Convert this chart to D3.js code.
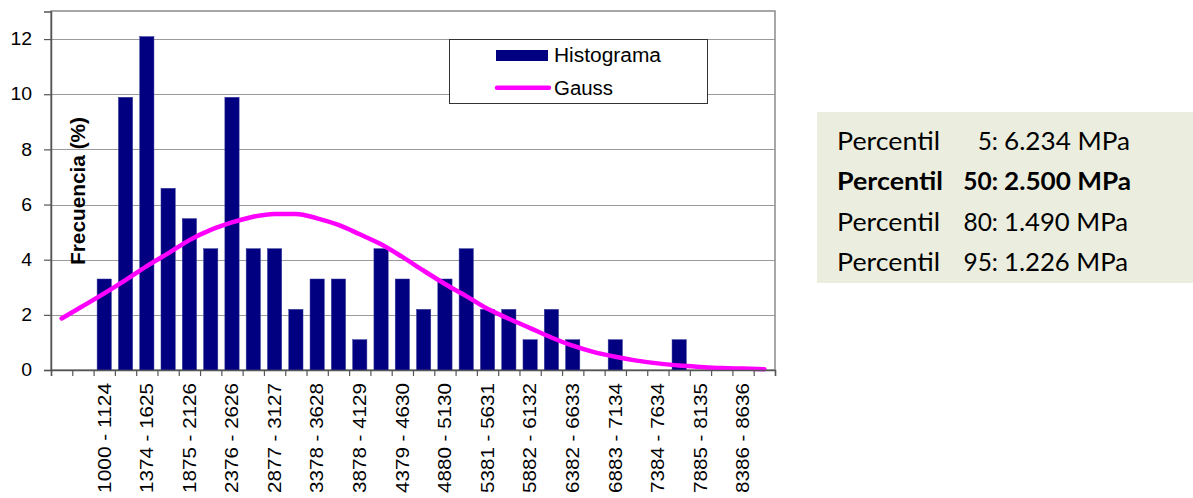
<!DOCTYPE html>
<html>
<head>
<meta charset="utf-8">
<script src="https://cdn.jsdelivr.net/npm/d3@7"></script>
<style>
  html, body { margin: 0; padding: 0; background: #ffffff; }
  svg { display: block; }
</style>
</head>
<body>
<svg id="chart" width="1193" height="498"></svg>
<script>
// ---- data ----
const binLabels = ["", "", "1000 - 1124", "", "1374 - 1625", "", "1875 - 2126", "", "2376 - 2626", "",
  "2877 - 3127", "", "3378 - 3628", "", "3878 - 4129", "", "4379 - 4630", "", "4880 - 5130", "",
  "5381 - 5631", "", "5882 - 6132", "", "6382 - 6633", "", "6883 - 7134", "", "7384 - 7634", "",
  "7885 - 8135", "", "8386 - 8636", ""];
const histograma = [0, 0, 3.30, 9.89, 12.09, 6.59, 5.49, 4.40, 9.89, 4.40, 4.40, 2.20, 3.30, 3.30, 1.10, 4.40,
  3.30, 2.20, 3.30, 4.40, 2.20, 2.20, 1.10, 2.20, 1.10, 0, 1.10, 0, 0, 1.10, 0, 0, 0, 0];
const gauss = [1.87, 2.32, 2.78, 3.26, 3.77, 4.23, 4.71, 5.08, 5.35, 5.56, 5.66, 5.66, 5.50, 5.26, 4.92, 4.56,
  4.10, 3.60, 3.12, 2.68, 2.22, 1.86, 1.52, 1.18, 0.88, 0.65, 0.48, 0.34, 0.24, 0.16, 0.11, 0.07, 0.05, 0.03];
const yTicks = [0, 2, 4, 6, 8, 10, 12];
const yTitle = "Frecuencia (%)";
const seriesNames = ["Histograma", "Gauss"];
const percentiles = ["5", "50", "80", "95"];
const percentileValues = ["6.234", "2.500", "1.490", "1.226"];
const percentileUnit = "MPa";
const boldPercentile = 1;

// ---- layout ----
const svg = d3.select("#chart");
const L = 51, R = 775, T = 11, B = 370;
const n = binLabels.length;
const idx = d3.range(n);

const x = d3.scaleBand().domain(idx).range([L, R]).padding(0);
const xBar = d3.scaleBand().domain(idx).range([L, R]).paddingInner(0.33).paddingOuter(0.165);
const xLin = d3.scaleLinear().domain([0, n]).range([L, R]);
const y = d3.scaleLinear().domain([0, 13]).range([B, T + 0.5]);

const FONT = "'Liberation Sans', Arial, sans-serif";

// gridlines
svg.append("g")
  .selectAll("line").data(yTicks.filter(d => d > 0)).join("line")
  .attr("x1", L).attr("x2", R)
  .attr("y1", d => Math.round(y(d)) + 0.5).attr("y2", d => Math.round(y(d)) + 0.5)
  .attr("stroke", "#9a9a9a").attr("stroke-width", 1);

// plot frame
svg.append("rect")
  .attr("x", L).attr("y", T).attr("width", R - L).attr("height", B - T)
  .attr("fill", "none").attr("stroke", "#8a8a8a").attr("stroke-width", 1.5);

// bars
svg.append("g")
  .selectAll("rect").data(idx.filter(i => histograma[i] > 0)).join("rect")
  .attr("x", i => xBar(i))
  .attr("width", xBar.bandwidth())
  .attr("y", i => y(histograma[i]))
  .attr("height", i => y(0) - y(histograma[i]))
  .attr("fill", "#000080")
  .attr("stroke", "#3a3a9a").attr("stroke-width", 0.5);

// gauss curve
const line = d3.line()
  .x(i => x(i) + x.bandwidth() / 2)
  .y(i => y(gauss[i]))
  .curve(d3.curveMonotoneX);
svg.append("path")
  .datum(idx)
  .attr("d", line)
  .attr("fill", "none")
  .attr("stroke", "#ff00ff")
  .attr("stroke-width", 4.5)
  .attr("stroke-linecap", "round")
  .attr("stroke-linejoin", "round");

// y axis
const yAxis = svg.append("g")
  .attr("transform", `translate(${L},0)`)
  .call(d3.axisLeft(y).tickValues(yTicks).tickSize(7).tickPadding(12).tickFormat(d3.format("d")));
yAxis.select(".domain").attr("stroke", "#555").attr("stroke-width", 1.5);
yAxis.selectAll(".tick line").attr("stroke", "#555").attr("stroke-width", 1.2);
yAxis.selectAll(".tick text")
  .attr("font-family", FONT).attr("font-size", 18).attr("fill", "#000")
  .attr("textLength", d => String(d).length * 10.8)
  .attr("lengthAdjust", "spacingAndGlyphs");

// x axis tick marks at category boundaries
const xAxis = svg.append("g")
  .attr("transform", `translate(0,${B})`)
  .call(d3.axisBottom(xLin).tickValues(d3.range(n + 1)).tickSize(6).tickFormat(""));
xAxis.select(".domain").attr("stroke", "#555").attr("stroke-width", 1.5);
xAxis.selectAll(".tick line").attr("stroke", "#555").attr("stroke-width", 1.2);

// x labels (rotated)
const xLab = svg.append("g")
  .attr("transform", `translate(0,${B})`)
  .call(d3.axisBottom(x).tickSize(0).tickFormat(i => binLabels[i]));
xLab.select(".domain").remove();
xLab.selectAll(".tick text")
  .attr("font-family", FONT).attr("font-size", 17.5).attr("fill", "#000")
  .attr("transform", "rotate(-90)")
  .attr("text-anchor", "end")
  .attr("x", -13).attr("y", 0).attr("dy", "0.36em")
  .attr("textLength", i => binLabels[i] ? 110 : null)
  .attr("lengthAdjust", "spacingAndGlyphs");

// y title
svg.append("text")
  .attr("transform", "translate(85,191) rotate(-90)")
  .attr("text-anchor", "middle")
  .attr("font-family", FONT).attr("font-size", 20).attr("font-weight", "bold")
  .attr("textLength", 148).attr("lengthAdjust", "spacingAndGlyphs")
  .text(yTitle);

// legend
const lg = svg.append("g");
lg.append("rect").attr("x", 449.5).attr("y", 39.5).attr("width", 258).attr("height", 64)
  .attr("fill", "#fff").attr("stroke", "#333").attr("stroke-width", 1);
lg.append("rect").attr("x", 496).attr("y", 50).attr("width", 52).attr("height", 11).attr("fill", "#000080");
lg.append("line").attr("x1", 497).attr("x2", 549).attr("y1", 87.7).attr("y2", 87.7)
  .attr("stroke", "#ff00ff").attr("stroke-width", 4.5).attr("stroke-linecap", "round");
lg.append("text").attr("x", 554).attr("y", 62).attr("font-family", FONT).attr("font-size", 19.5)
  .attr("textLength", 107).attr("lengthAdjust", "spacingAndGlyphs").text(seriesNames[0]);
lg.append("text").attr("x", 554).attr("y", 95).attr("font-family", FONT).attr("font-size", 19.5)
  .attr("textLength", 59).attr("lengthAdjust", "spacingAndGlyphs").text(seriesNames[1]);

// percentile box
const pb = svg.append("g");
pb.append("rect").attr("x", 817).attr("y", 112).attr("width", 376).attr("height", 171).attr("fill", "#ebeedf");
const PF = "Lato, 'Open Sans', sans-serif";
const baselines = [149.5, 190, 231, 270.5];
const valueLen = [126, 127, 124, 124];
percentiles.forEach((p, k) => {
  const bold = k === boldPercentile ? "bold" : "normal";
  pb.append("text").attr("x", 837).attr("y", baselines[k])
    .attr("font-family", PF).attr("font-size", 24.5).attr("font-weight", bold).attr("fill", "#000")
    .attr("textLength", k === boldPercentile ? 106 : 103).attr("lengthAdjust", "spacingAndGlyphs")
    .text("Percentil");
  pb.append("text").attr("x", 998).attr("y", baselines[k]).attr("text-anchor", "end")
    .attr("font-family", PF).attr("font-size", 24.5).attr("font-weight", bold).attr("fill", "#000")
    .text(p + ":");
  pb.append("text").attr("x", 1004).attr("y", baselines[k])
    .attr("font-family", PF).attr("font-size", 24.5).attr("font-weight", bold).attr("fill", "#000")
    .attr("textLength", valueLen[k]).attr("lengthAdjust", "spacingAndGlyphs")
    .text(percentileValues[k] + " " + percentileUnit);
});
</script>
</body>
</html>
